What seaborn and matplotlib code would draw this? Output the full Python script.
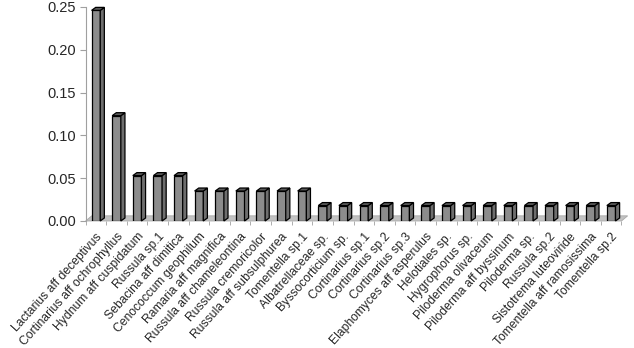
import numpy as np
import pandas as pd
import seaborn as sns
import matplotlib.pyplot as plt
from matplotlib.patches import Polygon

species = ['Lactarius aff deceptivus', 'Cortinarius aff ochrophyllus',
           'Hydnum aff cuspidatum', 'Russula sp.1', 'Sebacina aff dimitica',
           'Cenococcum geophilum', 'Ramaria aff magnifica',
           'Russula aff chameleontina', 'Russula cremoricolor',
           'Russula aff subsulphurea', 'Tomentella sp.1', 'Albatrellaceae sp.',
           'Byssocorticium sp.', 'Cortinarius sp.1', 'Cortinarius sp.2',
           'Cortinarius sp.3', 'Elaphomyces aff asperulus', 'Helotiales sp.',
           'Hygrophorus sp.', 'Piloderma olivaceum', 'Piloderma aff byssinum',
           'Piloderma sp.', 'Russula sp.2', 'Sistotrema luteoviride',
           'Tomentella aff ramosissima', 'Tomentella sp.2']
freq = [0.246, 0.123, 0.053, 0.053, 0.053, 0.035, 0.035, 0.035, 0.035,
        0.035, 0.035, 0.018, 0.018, 0.018, 0.018, 0.018, 0.018, 0.018,
        0.018, 0.018, 0.018, 0.018, 0.018, 0.018, 0.018, 0.018]

df = pd.DataFrame({'species': species, 'freq': freq})

sns.set_style('white')
plt.rcParams['font.family'] = ['Liberation Sans', 'DejaVu Sans']

fig, ax = plt.subplots(figsize=(6.34, 3.48), dpi=100)
fig.subplots_adjust(left=0.135, right=0.99, top=0.98, bottom=0.365)

sns.barplot(data=df, x='species', y='freq', color='#8c8c8c', width=0.42,
            edgecolor='black', linewidth=0.9, saturation=1, ax=ax, zorder=3)

# fake 3D depth
dx, dy = 0.2, 0.0035
n = len(species)
floor = Polygon([(-0.5, 0), (n - 0.5, 0), (n - 0.5 + 0.3, 0.006), (-0.5 + 0.3, 0.006)],
                closed=True, facecolor='#c2c2c2', edgecolor='#a8a8a8',
                lw=0.6, zorder=1, clip_on=False)
ax.add_patch(floor)
for p in ax.patches[:n]:
    x0 = p.get_x()
    w = p.get_width()
    h = p.get_height()
    side = Polygon([(x0 + w, 0), (x0 + w + dx, dy), (x0 + w + dx, h + dy), (x0 + w, h)],
                   closed=True, facecolor='#6e6e6e', edgecolor='black', lw=0.9,
                   zorder=3, clip_on=False)
    top = Polygon([(x0, h), (x0 + dx, h + dy), (x0 + w + dx, h + dy), (x0 + w, h)],
                  closed=True, facecolor='#5a5a5a', edgecolor='black', lw=0.9,
                  zorder=3, clip_on=False)
    ax.add_patch(side)
    ax.add_patch(top)

ax.set_xlim(-0.5, n - 0.5 + 0.3)
ax.set_ylim(0, 0.25)
ax.set_yticks([0, 0.05, 0.10, 0.15, 0.20, 0.25])
ax.set_yticklabels(['0.00', '0.05', '0.10', '0.15', '0.20', '0.25'], fontsize=10.5)
ax.set_xticks(np.arange(n))
ax.set_xticklabels(species, rotation=48, ha='right', rotation_mode='anchor',
                   fontsize=8.7)
ax.set_xticks(np.arange(n + 1) - 0.5, minor=True)
ax.set_xlabel('')
ax.set_ylabel('')

sns.despine(ax=ax, top=True, right=True, bottom=True)
ax.spines['left'].set_color('#a0a0a0')
ax.tick_params(axis='y', length=4, color='#a0a0a0', left=True, pad=3)
ax.tick_params(axis='x', which='major', length=0, pad=7)
ax.tick_params(axis='x', which='minor', length=3, color='#a0a0a0', bottom=True)

fig.savefig('out.png', dpi=100)
